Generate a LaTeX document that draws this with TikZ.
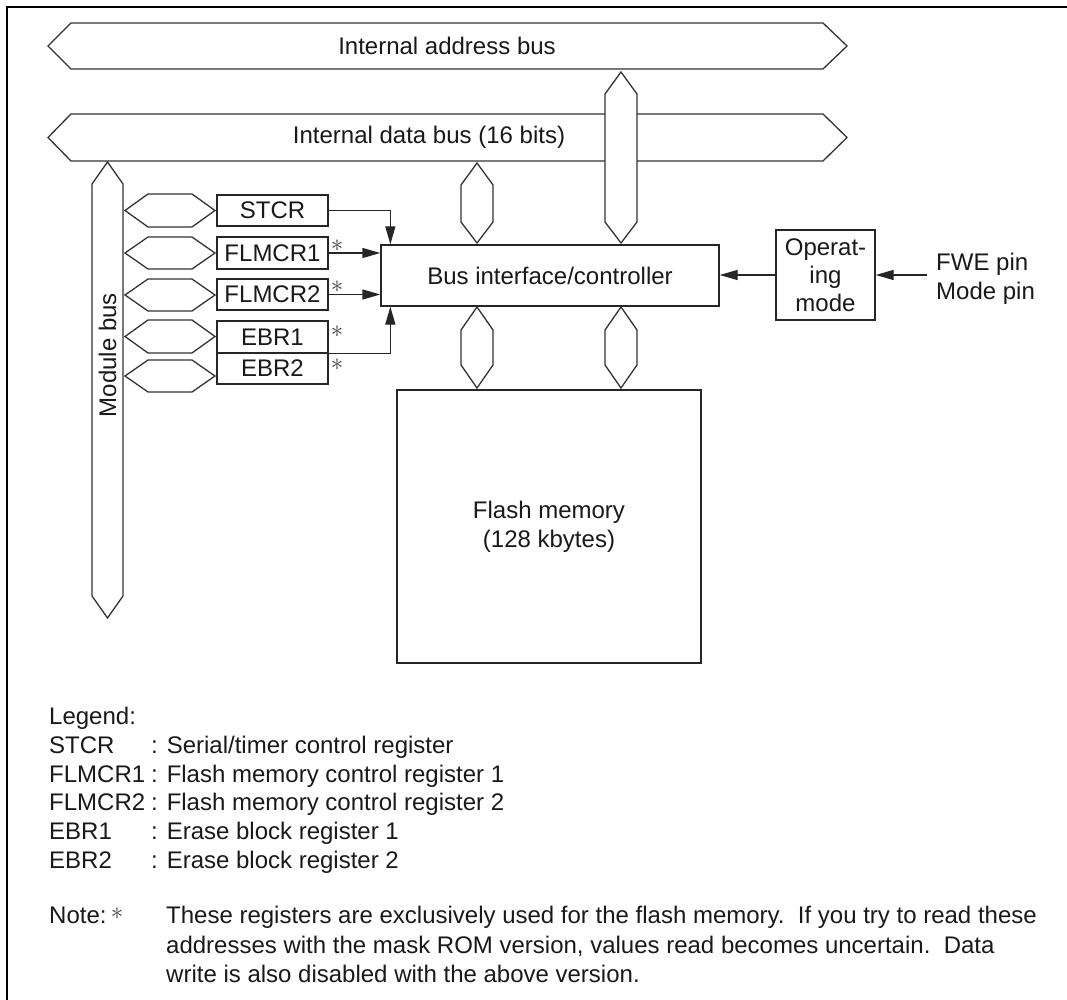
\documentclass[tikz,border=0pt]{standalone}
\usepackage{fontspec}
\setmainfont{Liberation Sans}
\usetikzlibrary{arrows.meta}
\begin{document}
\begin{tikzpicture}[x=1pt,y=-1pt,
  every node/.style={font=\fontsize{24}{28.8}\selectfont, text=black!90},
  bus/.style={draw=black!80, line width=1.3pt, fill=white, line join=miter},
  box/.style={draw=black!85, line width=1.3pt, fill=white, inner sep=0pt},
  reg/.style={box, minimum width=111, minimum height=31},
  arr/.style={draw=black!85, line width=1.3pt, -{Triangle[length=18pt,width=10pt]}},
  ast/.style={font=\fontsize{28}{28}\selectfont, text=black!75, inner sep=0pt},
  leg/.style={anchor=base west, inner sep=0pt}]
\useasboundingbox (0,0) rectangle (1067,1000);
% outer frame (right and bottom lie outside)
\draw[line width=2.6pt] (7,1010) -- (7,7) -- (1080,7);

% internal address bus
\draw[bus] (48,46) -- (71,23) -- (823,23) -- (847,46) -- (823,69) -- (71,69) -- cycle;
\node (iab) at (447,46) {Internal address bus};
% internal data bus
\draw[bus] (48,137.5) -- (71,114) -- (823,114) -- (847,137.5) -- (823,161) -- (71,161) -- cycle;
\node (idb) at (429,137.5) {Internal data bus (16 bits)};
% address bus branch to controller
\draw[bus] (621,72) -- (637,94) -- (637,222) -- (621,243) -- (605,222) -- (605,94) -- cycle;
% data bus branch to controller
\draw[bus] (477,163) -- (493,185) -- (493,222) -- (477,243) -- (461,222) -- (461,185) -- cycle;
% controller to flash branches
\draw[bus] (477,307) -- (493,330) -- (493,365) -- (477,388) -- (461,365) -- (461,330) -- cycle;
\draw[bus] (621,307) -- (637,330) -- (637,365) -- (621,388) -- (605,365) -- (605,330) -- cycle;

% module bus
\draw[bus] (107.5,162) -- (123,184) -- (123,596) -- (107.5,618) -- (92,596) -- (92,184) -- cycle;
\node[rotate=90] (mbl) at (107.5,355) {Module bus};

% small bus stubs
\foreach \t/\b in {194/227, 237/269, 279/311, 320/353, 360/392}{
  \draw[bus] (125,{(\t+\b)/2}) -- (148,\t) -- (192,\t) -- (215,{(\t+\b)/2}) -- (192,\b) -- (148,\b) -- cycle;
}

% registers
\node[reg] (stcr) at (272.5,210.5) {STCR};
\node[reg, minimum height=32] (fl1) at (272.5,253) {FLMCR1};
\node[reg] (fl2) at (272.5,294.5) {FLMCR2};
\node[reg, minimum height=32] (ebr1) at (272.5,337) {EBR1};
\node[reg] (ebr2) at (272.5,368.5) {EBR2};
\node[ast] (a1) at (337,246) {$\ast$};
\node[ast] (a2) at (337,287) {$\ast$};
\node[ast] (a3) at (337,332) {$\ast$};
\node[ast] (a4) at (337,365) {$\ast$};

% controller
\node[box, minimum width=338, minimum height=61] (ctrl) at (550,275.5) {Bus interface/controller};
% operating mode
\node[box, minimum width=99, minimum height=90, align=center,
      font=\fontsize{24}{28}\selectfont] (opm) at (825.5,275) {Operat-\\ing\\mode};
\node[anchor=west, align=left, inner sep=0pt] (pins) at (936,279) {FWE pin\\Mode pin};
% flash memory
\node[box, minimum width=304, minimum height=273, align=center] (flash) at (549,526.5) {Flash memory\\ (128 kbytes)};

% arrows
\draw[arr] (stcr.east) -| ([xshift=10]ctrl.north west);
\draw[arr] (fl1.east) -- (fl1.east -| ctrl.west);
\draw[arr] (fl2.east) -- (fl2.east -| ctrl.west);
\draw[arr] (ebr1.south east) -| ([xshift=10]ctrl.south west);
\draw[arr] (opm.west) -- (opm.west -| ctrl.east);
\draw[arr] ([xshift=-9]pins.west |- opm.east) -- (opm.east);

% legend
\node[leg] (lg0) at (49,724) {Legend:};
\node[leg] (lg1) at (49,753) {STCR};
\node[leg] (lg2) at (49,782) {FLMCR1};
\node[leg] (lg3) at (49,810) {FLMCR2};
\node[leg] (lg4) at (49,839) {EBR1};
\node[leg] (lg5) at (49,868) {EBR2};
\node[leg] (ld1) at (151,753) {: Serial/timer control register};
\node[leg] (ld2) at (151,782) {: Flash memory control register 1};
\node[leg] (ld3) at (151,810) {: Flash memory control register 2};
\node[leg] (ld4) at (151,839) {: Erase block register 1};
\node[leg] (ld5) at (151,868) {: Erase block register 2};
\node[leg] (nt) at (49,923) {Note:};
\node[ast] (na) at (117,914) {$\ast$};
\node[leg] (n1) at (166,923) {These registers are exclusively used for the flash memory.\ \ If you try to read these};
\node[leg] (n2) at (166,953) {addresses with the mask ROM version, values read becomes uncertain.\ \ Data};
\node[leg] (n3) at (166,982) {write is also disabled with the above version.};
\end{tikzpicture}
\end{document}
